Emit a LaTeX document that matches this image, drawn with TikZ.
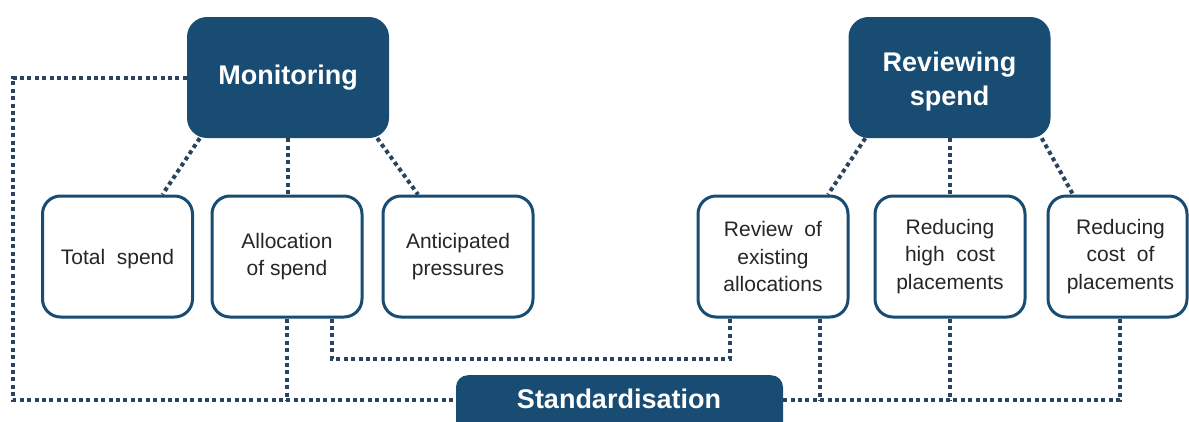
\documentclass[tikz,border=0pt]{standalone}
\usepackage{fontspec}
\setmainfont{Liberation Sans}
\usetikzlibrary{backgrounds}
\definecolor{navy}{RGB}{24,76,115}
\definecolor{dotc}{RGB}{42,68,96}
\definecolor{txt}{RGB}{38,38,38}
\begin{document}
\begin{tikzpicture}[x=1pt,y=-1pt,
  big/.style={rectangle, rounded corners=20pt, fill=navy, text=white,
    font=\fontsize{27}{34}\selectfont\bfseries, align=center,
    minimum width=202pt, minimum height=121pt, inner sep=0pt},
  small/.style={rectangle, rounded corners=18pt, draw=navy, line width=3pt,
    fill=white, text=txt, font=\fontsize{21}{27.5}\selectfont, align=center,
    minimum width=150pt, minimum height=121pt, inner sep=0pt},
  link/.style={draw=dotc, line width=4pt, dash pattern=on 4pt off 3.4pt}]
\useasboundingbox (0,0) rectangle (1189,421);
% main boxes
\node[big] (mon) at (288,77.5) {Monitoring};
\node[big] (rev) at (949.5,77.5) {\rule{0pt}{27pt}Reviewing\\spend};
\node[big, rounded corners=12pt, minimum width=327pt, minimum height=80pt, anchor=north] (std) at (619.5,375) {};
\node[text=white, font=\fontsize{27}{34}\selectfont\bfseries, inner sep=0pt] (stdlabel) at (619,399) {Standardisation};
% sub boxes
\node[small] (tot) at (117.5,256.5) {\rule{0pt}{21pt}Total\ \ spend};
\node[small] (alloc) at (287,256.5) {Allocation\\of spend};
\node[small] (anti) at (458,256.5) {Anticipated\\pressures};
\node[small] (revex) at (773,256.5) {Review\ \ of\\existing\\allocations};
\node[small] (rhc) at (950,256.5) {Reducing\\high\ \ cost\\placements};
\node[small, minimum width=139pt] (rcp) at (1117.5,256.5) {\hspace*{6pt}Reducing\\\hspace*{6pt}cost\ \ of\\\hspace*{6pt}placements};
% connectors
\coordinate (lc) at (13,400);
\coordinate (rc) at (1120,400);
\begin{pgfonlayer}{background}
\draw[link] (mon.west) -| (lc) -- (lc -| std.west);
\draw[link] ([xshift=13pt]mon.south west) -- ([xshift=45pt]tot.north);
\draw[link] (mon.south) -- (mon.south |- alloc.north);
\draw[link] ([xshift=-12pt]mon.south east) -- ([xshift=-40pt]anti.north);
\draw[link] (alloc.south) -- (alloc.south |- lc);
\draw[link] ([xshift=45pt]alloc.south) -- ++(0,40) -| ([xshift=-43pt]revex.south);
\draw[link] ([xshift=17pt]rev.south west) -- ([xshift=55pt]revex.north);
\draw[link] (rev.south) -- (rev.south |- rhc.north);
\draw[link] ([xshift=-9pt]rev.south east) -- ([xshift=-44.5pt]rcp.north);
\draw[link] ([xshift=47pt]revex.south) -- ([xshift=47pt]revex.south |- rc);
\draw[link] (rhc.south) -- (rhc.south |- rc);
\draw[link] ([xshift=2.5pt]rcp.south) -- (rc) -- (rc -| std.east);
\end{pgfonlayer}
\end{tikzpicture}
\end{document}
